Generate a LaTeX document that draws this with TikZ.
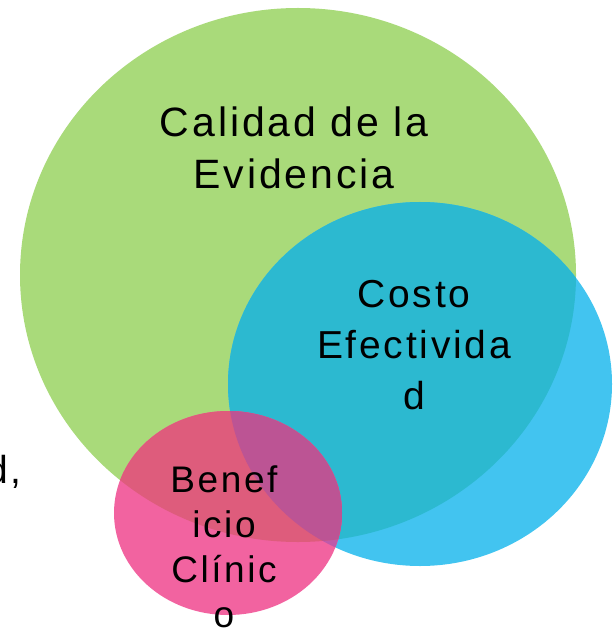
\documentclass[tikz,border=0pt]{standalone}
\usepackage{fontspec}
\setmainfont{Liberation Sans}[LetterSpace=7]
\usepackage{tikz}

\definecolor{verde}{RGB}{169,218,122}
\definecolor{azul}{RGB}{66,196,240}
\definecolor{verdeazul}{RGB}{44,185,208}
\definecolor{rosa}{RGB}{242,99,160}
\definecolor{rosaverde}{RGB}{222,92,124}
\definecolor{rosaazul}{RGB}{190,90,170}
\definecolor{morado}{RGB}{188,84,148}

\begin{document}
\begin{tikzpicture} [x=1pt, y=-1pt]
    \tikzstyle{every node} = [align=center, inner sep=0pt, anchor=base]
    \tikzstyle{calidad} = [font=\fontsize{41}{52}\selectfont]
    \tikzstyle{costo} = [font=\fontsize{39}{51}\selectfont]
    \tikzstyle{beneficio} = [font=\fontsize{37}{45}\selectfont]
    \useasboundingbox (0,0) rectangle (612,628);
    % circulos
    \fill[verde] (298,275) ellipse [x radius=278, y radius=267];
    \fill[azul] (420,384) ellipse [x radius=192, y radius=182];
    \begin{scope}
        \clip (298,275) ellipse [x radius=278, y radius=267];
        \fill[verdeazul] (420,384) ellipse [x radius=192, y radius=182];
    \end{scope}
    \fill[rosa] (228,513) ellipse [x radius=114, y radius=102];
    \begin{scope}
        \clip (228,513) ellipse [x radius=114, y radius=102];
        \fill[rosaazul] (420,384) ellipse [x radius=192, y radius=182];
        \clip (298,275) ellipse [x radius=278, y radius=267];
        \fill[rosaverde] (298,275) ellipse [x radius=278, y radius=267];
        \fill[morado] (420,384) ellipse [x radius=192, y radius=182];
    \end{scope}
    % textos (base = ultima linea)
    \node [calidad] (calidad) at (294,189) {Calidad de la \\ Evidencia};
    \node [costo] (costo) at (414,409) {Costo \\ Efectivida \\ d};
    \node [beneficio] (beneficio) at (224,627) {Benef \\ icio \\ Clínic \\ o};
    \node [costo, anchor=base east] (resto) at (22,483) {d,};
\end{tikzpicture}
\end{document}
